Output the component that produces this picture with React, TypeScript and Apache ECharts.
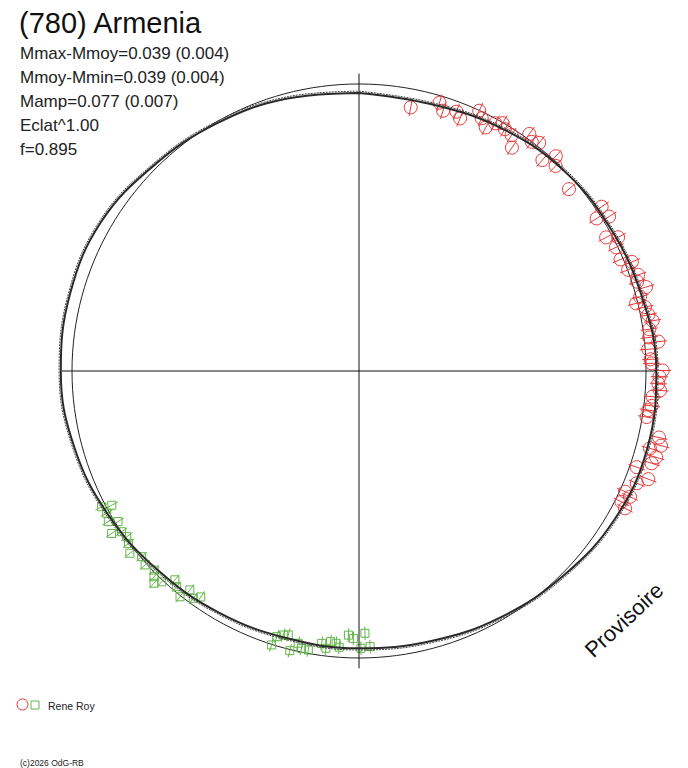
import React, { useEffect, useRef } from 'react';
import * as echarts from 'echarts';

// phase in degrees (0 = top, clockwise), radius relative to mean magnitude (1 = Mmoy)
const fitPhase = [0, 15, 30, 45, 60, 75, 90, 105, 120, 135, 150, 165, 180, 195, 210, 225, 240, 255, 270, 285, 300, 315, 330, 345, 360];
const fitRadius = [0.969, 0.963, 0.980, 0.998, 1.007, 1.019, 1.036, 1.040, 1.030, 1.008, 0.990, 0.974, 0.966, 0.964, 0.973, 0.986, 1.007, 1.027, 1.039, 1.042, 1.038, 1.012, 0.995, 0.982, 0.969];
const fitRadiusOuter = [0.975, 0.969, 0.986, 1.004, 1.013, 1.025, 1.042, 1.046, 1.036, 1.014, 0.996, 0.980, 0.972, 0.970, 0.979, 0.992, 1.013, 1.033, 1.045, 1.048, 1.044, 1.018, 1.001, 0.988, 0.975];

// Rene Roy, session 1 (circles)
const circlePhase = [11.1, 16.7, 17.9, 20.6, 21.8, 24.8, 25.9, 27.5, 28.8, 30.1, 31.1, 32.9, 34.4, 35.7, 37.0, 38.3, 41.0, 42.5, 43.8, 49.1,
  55.9, 57.3, 58.3, 61.6, 62.7, 64.3, 66.9, 68.2, 69.4, 71.0, 72.2, 73.7, 75.2, 76.3, 77.4, 79.0, 80.3, 81.8, 83.4, 84.4,
  85.7, 87.7, 88.5, 89.9, 91.1, 92.4, 93.7, 95.0, 96.8, 97.7, 99.1, 102.5, 103.9, 104.9, 106.2, 107.5, 109.1, 110.5, 112.0, 114.4,
  114.9, 116.5, 117.3];
const circleRadius = [0.936, 0.976, 0.953, 0.965, 0.948, 0.999, 0.979, 0.957, 0.985, 0.998, 0.984, 0.979, 0.943, 1.017, 1.000, 1.013, 0.974, 1.015, 0.990, 0.968,
  1.021, 0.984, 1.024, 0.979, 1.016, 0.994, 0.991, 1.024, 1.002, 1.029, 1.018, 1.042, 1.013, 0.994, 1.021, 1.027, 1.038, 1.022, 1.018, 1.048,
  1.011, 1.017, 1.020, 1.058, 1.047, 1.044, 1.051, 1.027, 1.027, 1.017, 1.015, 1.071, 1.084, 1.049, 1.078, 1.069, 1.024, 1.076, 1.044, 1.018,
  1.041, 1.022, 1.043];

// Rene Roy, session 2 (squares)
const squarePhase = [242.2, 241.5, 240.6, 239.0, 238.0, 236.7, 235.9, 234.5, 233.2, 231.5, 229.5, 227.8, 225.8, 224.9, 224.0, 223.1, 221.4, 220.2, 217.7, 218.4,
  216.1, 215.0, 197.7, 197.2, 196.0, 195.0, 193.9, 192.6, 191.7, 190.3, 187.8, 186.8, 186.0, 184.8, 184.1, 182.3, 181.2, 178.7, 179.6, 177.7];
const squareRadius = [1.014, 0.980, 1.009, 1.019, 0.990, 1.031, 0.999, 0.994, 1.003, 1.020, 0.996, 1.006, 0.995, 1.012, 1.028, 1.006, 0.970, 0.984, 0.964, 1.004,
  0.980, 0.961, 1.002, 0.969, 0.957, 0.952, 1.004, 0.972, 0.987, 0.988, 0.958, 0.973, 0.948, 0.952, 0.965, 0.921, 0.932, 0.914, 0.966, 0.961];

const circleErr = 0.03;
const squareErr = 0.024;
const crossRadius = 1.036;
const radiusMax = 1.1;

const title = '(780) Armenia';
const statLines = ['Mmax-Mmoy=0.039 (0.004)', 'Mmoy-Mmin=0.039 (0.004)', 'Mamp=0.077 (0.007)', 'Eclat^1.00', 'f=0.895'];
const observer = 'Rene Roy';
const copyright = '(c)2026 OdG-RB';

const RED = '#e8393a';
const GREEN = '#62b548';
const FONT = '"Liberation Sans", Arial, sans-serif';
const MEAN_PX = 287; // pixel radius of the mean-magnitude circle

const zip = (r: number[], a: number[]) => r.map((v, i) => [v, a[i]]);

const markerRenderer = (kind: 'circle' | 'square', color: string, err: number) => (params: any, api: any) => {
  const r = api.value(0);
  const a = api.value(1);
  const c = api.coord([r, a]);
  const p1 = api.coord([r - err, a]);
  const p2 = api.coord([r + err, a]);
  const style = { fill: 'none', stroke: color, lineWidth: 1 };
  const mark = kind === 'circle'
    ? { type: 'circle', shape: { cx: c[0], cy: c[1], r: 6.5 }, style }
    : { type: 'rect', shape: { x: c[0] - 4, y: c[1] - 4, width: 8, height: 8 }, style };
  return {
    type: 'group',
    children: [
      mark,
      { type: 'line', shape: { x1: p1[0], y1: p1[1], x2: p2[0], y2: p2[1] }, style: { stroke: color, lineWidth: 1 } },
    ],
  };
};

const hiddenAxis = {
  axisTick: { show: false },
  axisLabel: { show: false },
  splitLine: { show: false },
};

const App: React.FC = () => {
  const chartRef = useRef<HTMLDivElement>(null);

  useEffect(() => {
    if (!chartRef.current) return;
    const chart = echarts.init(chartRef.current, undefined, { renderer: 'svg' });

    const polarLine = (data: number[][], lineStyle: any, smooth: number | boolean = false) => ({
      type: 'line',
      coordinateSystem: 'polar',
      polarIndex: 0,
      data,
      smooth,
      showSymbol: false,
      clip: false,
      silent: true,
      lineStyle,
    });

    const option: any = {
      animation: false,
      backgroundColor: '#fff',
      polar: [
        { center: [359, 371], radius: MEAN_PX * radiusMax },
        { center: [359, 371], radius: MEAN_PX },
      ],
      angleAxis: [
        { polarIndex: 0, type: 'value', min: 0, max: 360, startAngle: 90, clockwise: true, axisLine: { show: false }, ...hiddenAxis },
        {
          polarIndex: 1, type: 'value', min: 0, max: 360, startAngle: 90, clockwise: true,
          axisLine: { show: true, lineStyle: { color: '#222', width: 1 } }, ...hiddenAxis,
        },
      ],
      radiusAxis: [
        { polarIndex: 0, type: 'value', min: 0, max: radiusMax, axisLine: { show: false }, ...hiddenAxis },
        { polarIndex: 1, type: 'value', min: 0, max: 1, axisLine: { show: false }, ...hiddenAxis },
      ],
      series: [
        polarLine([[crossRadius, 270], [0, 0], [crossRadius, 90]], { color: '#111', width: 1 }),
        polarLine([[crossRadius, 0], [0, 0], [crossRadius, 180]], { color: '#111', width: 1 }),
        {
          type: 'custom',
          coordinateSystem: 'polar',
          polarIndex: 0,
          clip: false,
          encode: { radius: 0, angle: 1 },
          data: zip(circleRadius, circlePhase),
          renderItem: markerRenderer('circle', RED, circleErr),
        },
        {
          type: 'custom',
          coordinateSystem: 'polar',
          polarIndex: 0,
          clip: false,
          encode: { radius: 0, angle: 1 },
          data: zip(squareRadius, squarePhase),
          renderItem: markerRenderer('square', GREEN, squareErr),
        },
        polarLine(zip(fitRadius, fitPhase), { color: '#2a2a2a', width: 2 }, 0.4),
        polarLine(zip(fitRadiusOuter, fitPhase), { color: '#444', width: 1, type: [2, 1] }, 0.4),
      ],
      graphic: [
        { type: 'text', x: 19, y: 23, style: { text: title, fill: '#111', fontSize: 29, fontFamily: FONT, verticalAlign: 'middle' } },
        ...statLines.map((t, i) => ({
          type: 'text',
          x: 20,
          y: 53 + i * 24,
          style: { text: t, fill: '#222', fontSize: 17, fontFamily: FONT, verticalAlign: 'middle' },
        })),
        { type: 'circle', shape: { cx: 22.5, cy: 704.5, r: 5.5 }, style: { fill: 'none', stroke: RED, lineWidth: 1 } },
        { type: 'rect', shape: { x: 31, y: 701, width: 8, height: 8 }, style: { fill: 'none', stroke: GREEN, lineWidth: 1 } },
        { type: 'text', x: 48, y: 705.5, style: { text: observer, fill: '#222', fontSize: 10.5, fontFamily: FONT, verticalAlign: 'middle' } },
        { type: 'text', x: 20, y: 763, style: { text: copyright, fill: '#222', fontSize: 8.5, fontFamily: FONT, verticalAlign: 'middle' } },
        {
          type: 'text',
          x: 624,
          y: 620,
          rotation: (43 * Math.PI) / 180,
          style: { text: 'Provisoire', fill: '#111', fontSize: 22, fontFamily: FONT, align: 'center', verticalAlign: 'middle' },
        },
      ],
    };

    chart.setOption(option);

    return () => {
      chart.dispose();
    };
  }, []);

  return <div ref={chartRef} style={{ position: 'absolute', left: 0, top: 0, width: 688, height: 768 }} />;
};

export default App;
